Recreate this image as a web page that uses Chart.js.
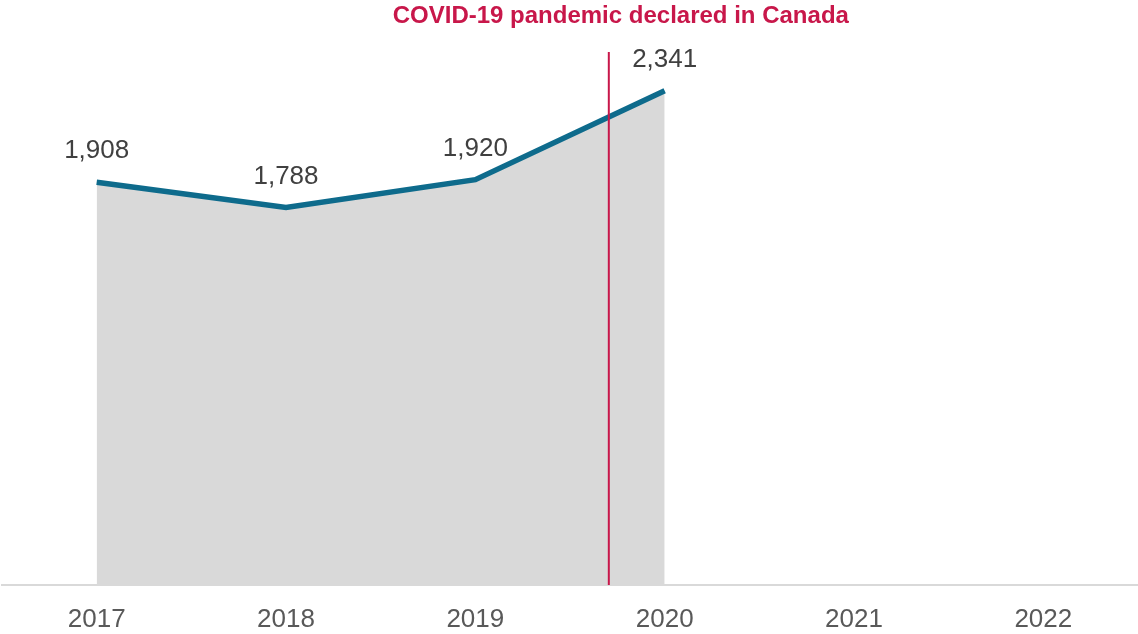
<!DOCTYPE html>
<html>
<head>
<meta charset="utf-8">
<script src="https://cdn.jsdelivr.net/npm/chart.js@4"></script>
<style>
  body { margin: 0; background: #fff; }
  #wrap { width: 1138px; height: 634px; position: relative; }
</style>
</head>
<body>
<div id="wrap"><canvas id="lineChart"></canvas></div>
<script>
var years = ['2017', '2018', '2019', '2020', '2021', '2022'];
var counts = [1908, 1788, 1920, 2341, null, null];
var eventLabel = 'COVID-19 pandemic declared in Canada';
var eventPos = 2.705; // between 2019 and 2020 (March 2020)

// Etiquetas de valores sobre los puntos
var valueLabels = {
    id: 'valueLabels',
    afterDatasetsDraw: function(chart) {
        var ctx = chart.ctx;
        var meta = chart.getDatasetMeta(0);
        ctx.save();
        ctx.font = '26px "Liberation Sans", Arial, sans-serif';
        ctx.fillStyle = '#404040';
        ctx.textAlign = 'center';
        ctx.textBaseline = 'middle';
        meta.data.forEach(function(pt, i) {
            if (counts[i] == null) return;
            ctx.fillText(counts[i].toLocaleString('en-US'), pt.x, pt.y - 31);
        });
        ctx.restore();
    }
};

// Línea vertical del evento
var eventLine = {
    id: 'eventLine',
    afterDatasetsDraw: function(chart) {
        var ctx = chart.ctx;
        var x = chart.scales.x.getPixelForValue(eventPos);
        var top = chart.scales.y.getPixelForValue(2525);
        var bottom = chart.scales.y.getPixelForValue(0);
        ctx.save();
        ctx.strokeStyle = '#C8174A';
        ctx.lineWidth = 2;
        ctx.beginPath();
        ctx.moveTo(x, top);
        ctx.lineTo(x, bottom);
        ctx.stroke();
        ctx.font = 'bold 24px "Liberation Sans", Arial, sans-serif';
        ctx.fillStyle = '#C8174A';
        ctx.textAlign = 'center';
        ctx.textBaseline = 'middle';
        ctx.fillText(eventLabel, x + 12, 16);
        ctx.restore();
    }
};

var ctx = document.getElementById('lineChart').getContext('2d');
var lineChart = new Chart(ctx, {
    type: 'line',
    data: {
        labels: years,
        datasets: [{
            data: counts,
            borderColor: '#0E6B8C',
            backgroundColor: '#D9D9D9',
            borderWidth: 5.5,
            fill: 'origin',
            pointRadius: 0,
            tension: 0,
            spanGaps: false
        }]
    },
    options: {
        responsive: true,
        maintainAspectRatio: false,
        animation: false,
        layout: { padding: { top: 15, left: 2, right: 0, bottom: 3 } },
        plugins: {
            legend: { display: false },
            tooltip: { enabled: false }
        },
        scales: {
            x: {
                offset: true,
                grid: { display: false, drawTicks: false },
                border: { display: true, color: '#D9D9D9', width: 2 },
                ticks: {
                    color: '#595959',
                    padding: 19,
                    font: { family: '"Liberation Sans", Arial, sans-serif', size: 26 }
                },
                afterFit: function(scale) { scale.height = 46; }
            },
            y: {
                display: false,
                min: 0,
                max: 2700
            }
        }
    },
    plugins: [valueLabels, eventLine]
});
</script>
</body>
</html>
